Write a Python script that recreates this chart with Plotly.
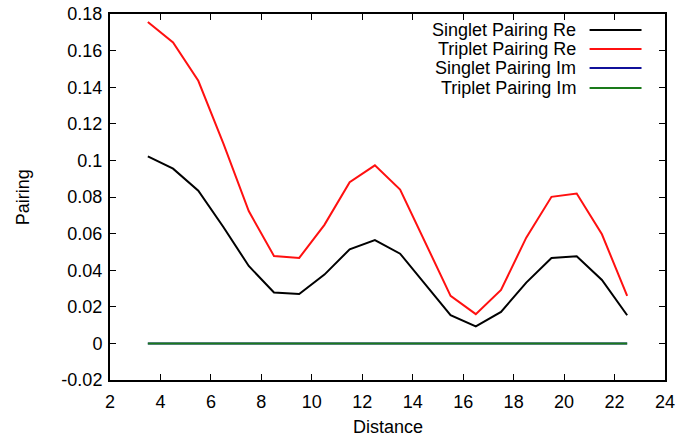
import plotly.graph_objects as go

distance = [3.5, 4.5, 5.5, 6.5, 7.5, 8.5, 9.5, 10.5, 11.5, 12.5,
            13.5, 14.5, 15.5, 16.5, 17.5, 18.5, 19.5, 20.5, 21.5, 22.5]
singlet_re = [0.1022, 0.0955, 0.0834, 0.0635, 0.0423, 0.0278, 0.0270, 0.0376, 0.0514, 0.0565,
              0.0490, 0.0323, 0.0154, 0.0093, 0.0172, 0.0332, 0.0467, 0.0476, 0.0347, 0.0154]
triplet_re = [0.1756, 0.1644, 0.1435, 0.1090, 0.0723, 0.0478, 0.0467, 0.0648, 0.0881, 0.0973,
              0.0841, 0.0552, 0.0260, 0.0160, 0.0292, 0.0578, 0.0801, 0.0819, 0.0596, 0.0260]
singlet_im = [0.0] * 20
triplet_im = [0.0] * 20

series_names = ["Singlet Pairing Re", "Triplet Pairing Re", "Singlet Pairing Im", "Triplet Pairing Im"]
series_values = [singlet_re, triplet_re, singlet_im, triplet_im]
series_colors = ["#000000", "#ff1010", "#10109a", "#1a7a1a"]

x_ticks = [2, 4, 6, 8, 10, 12, 14, 16, 18, 20, 22, 24]
y_tickvals = [-0.02, 0, 0.02, 0.04, 0.06, 0.08, 0.1, 0.12, 0.14, 0.16, 0.18]
y_ticktext = ["-0.02", "0", "0.02", "0.04", "0.06", "0.08", "0.1", "0.12", "0.14", "0.16", "0.18"]
x_title = "Distance"
y_title = "Pairing"

FONT = "Liberation Sans, Arial, Helvetica, sans-serif"
W, H = 679, 441

fig = go.Figure()
for name, vals, col in zip(series_names, series_values, series_colors):
    fig.add_trace(go.Scatter(x=distance, y=vals, mode="lines", name=name,
                             line=dict(color=col, width=2), showlegend=False))

# plot area in pixels
L, R, T, B = 110, 665.5, 14, 380.5
def px(x):
    return (x - L) / (R - L)
def py(y):
    return (B - y) / (B - T)

# manual gnuplot-style legend (text on left, sample line on right)
rows = [30, 49, 68, 88]
for name, col, ry in zip(series_names, series_colors, rows):
    fig.add_annotation(x=px(578), y=py(ry), xref="paper", yref="paper", text=name,
                       showarrow=False, xanchor="right", yanchor="middle",
                       font=dict(family=FONT, size=18, color="black"))
    fig.add_shape(type="line", xref="paper", yref="paper",
                  x0=px(590), x1=px(642), y0=py(ry), y1=py(ry),
                  line=dict(color=col, width=2))

# axis titles
fig.add_annotation(x=px(388), y=py(428), xref="paper", yref="paper", text=x_title,
                   showarrow=False, xanchor="center", yanchor="middle",
                   font=dict(family=FONT, size=18, color="black"))
fig.add_annotation(x=px(23), y=py(197.5), xref="paper", yref="paper", text=y_title,
                   showarrow=False, xanchor="center", yanchor="middle", textangle=-90,
                   font=dict(family=FONT, size=18, color="black"))

axis_common = dict(showline=True, linecolor="black", linewidth=2, mirror="allticks",
                   ticks="inside", ticklen=6, tickcolor="black", tickwidth=1,
                   showgrid=False, zeroline=False, automargin=False,
                   tickfont=dict(family=FONT, size=18, color="black"))

fig.update_layout(
    width=W, height=H,
    margin=dict(l=L, r=W - R, t=T, b=H - B, pad=0),
    plot_bgcolor="white", paper_bgcolor="white",
    font=dict(family=FONT, size=18, color="black"),
    xaxis=dict(range=[2, 24], tickvals=x_ticks, ticklabelstandoff=4, **axis_common),
    yaxis=dict(range=[-0.02, 0.18], tickvals=y_tickvals, ticktext=y_ticktext,
               ticklabelstandoff=2, **axis_common),
)

fig.write_html("out.html", config={"responsive": False, "displayModeBar": False},
               post_script="document.body.style.margin='0';document.body.style.overflow='hidden';")
